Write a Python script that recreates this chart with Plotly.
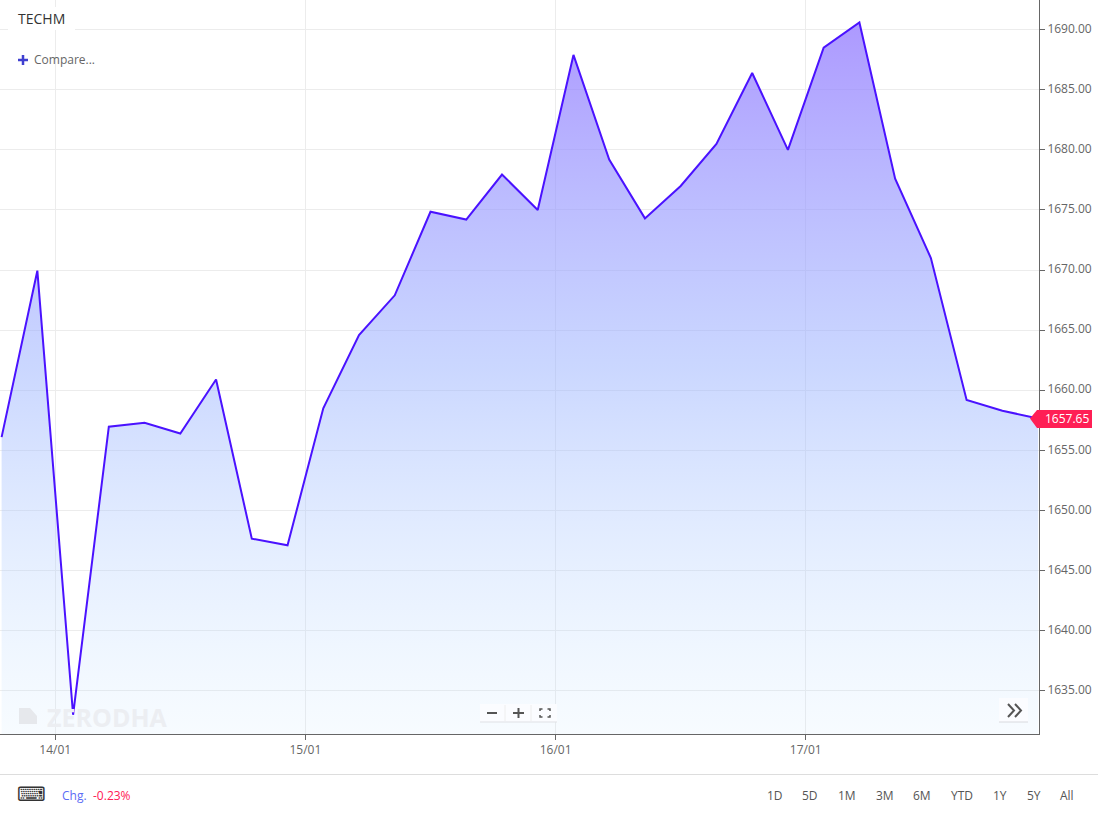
import plotly.graph_objects as go

PRICES = [1656.1, 1669.95, 1633.0, 1656.97, 1657.3, 1656.4, 1660.9, 1647.65, 1647.1, 1658.5,
          1664.6, 1667.9, 1674.85, 1674.2, 1677.95, 1675.0, 1687.9, 1679.2, 1674.3, 1677.0,
          1680.5, 1686.4, 1680.0, 1688.5, 1690.6, 1677.6, 1671.0, 1659.2, 1658.3, 1657.65]
BARS = list(range(len(PRICES)))
DATE_TICKS = [1.5, 8.5, 15.5, 22.5]
DATE_LABELS = ["14/01", "15/01", "16/01", "17/01"]
PRICE_TICKS = list(range(1635, 1695, 5))
RANGES = ["1D", "5D", "1M", "3M", "6M", "YTD", "1Y", "5Y", "All"]
RANGE_X = [775, 810, 847, 884.5, 922, 962, 1000, 1033.5, 1067]
LAST = "1657.65"

W, H = 1098, 816
PL, PT = 1039, 734
FONT = "Open Sans"


def px(x):
    return x / PL


def py(y):
    return 1 - y / PT


fig = go.Figure()
fig.add_trace(go.Scatter(
    x=BARS, y=PRICES, mode="lines", fill="tozeroy",
    line=dict(color="#4a12ff", width=2),
    fillgradient=dict(
        type="vertical", start=1692.4, stop=1631.3,
        colorscale=[[0, "rgba(147,118,255,0.78)"], [0.5, "rgba(150,175,255,0.5)"], [1, "rgba(190,225,255,0.12)"]],
    ),
    hoverinfo="skip", showlegend=False,
))


def text(x, y, s, size=12, color="#666666", anchor="center", **kw):
    return dict(text=s, x=px(x), y=py(y), xref="paper", yref="paper", showarrow=False,
                xanchor=anchor, yanchor="middle", font=dict(family=kw.pop("family", FONT), size=size, color=color), **kw)


def rect(x0, y0, x1, y1, fill="white", line=None, layer="above"):
    return dict(type="rect", xref="paper", yref="paper", x0=px(x0), x1=px(x1), y0=py(y0), y1=py(y1),
                fillcolor=fill, line=dict(color=line or "rgba(0,0,0,0)", width=1 if line else 0), layer=layer)


def seg(x0, y0, x1, y1, color, width=1):
    return dict(type="line", xref="paper", yref="paper", x0=px(x0), x1=px(x1), y0=py(y0), y1=py(y1),
                line=dict(color=color, width=width), layer="above")


def path(points, fill="rgba(0,0,0,0)", color="rgba(0,0,0,0)", width=0):
    d = "M" + " L".join(f"{px(a):.5f},{py(b):.5f}" for a, b in points)
    if fill != "rgba(0,0,0,0)":
        d += " Z"
    return dict(type="path", xref="paper", yref="paper", path=d, fillcolor=fill,
                line=dict(color=color, width=width), layer="above")


shapes = [
    rect(8, 7, 75, 30),
    seg(18, 60, 28, 60, "#3f3fd0", 2.5), seg(23, 55, 23, 65, "#3f3fd0", 2.5),
    # watermark logo
    path([(19, 708), (30, 708), (37, 716), (37, 724), (19, 724)], fill="#e6e8ec"),
    # zoom buttons
    rect(480, 704, 557, 722, fill="#fbfcff", line=None),
    seg(480, 722, 557, 722, "#dfe1e5", 1),
    seg(505, 705, 505, 721, "#eeeeee", 1), seg(531, 705, 531, 721, "#eeeeee", 1),
    seg(487, 713, 497, 713, "#555555", 2),
    seg(513, 713, 524, 713, "#555555", 2), seg(518.5, 708, 518.5, 718, "#555555", 2),
    path([(540, 711), (540, 709), (542.5, 709)], color="#555555", width=1.5),
    path([(547.5, 709), (550, 709), (550, 711)], color="#555555", width=1.5),
    path([(540, 715), (540, 717), (542.5, 717)], color="#555555", width=1.5),
    path([(547.5, 717), (550, 717), (550, 715)], color="#555555", width=1.5),
    # expand button
    rect(999, 698, 1028, 722, fill="#fbfcff"),
    seg(999, 722, 1028, 722, "#d8dade", 1),
    path([(1008, 704), (1014, 710.5), (1008, 717)], color="#555555", width=2),
    path([(1015, 704), (1021, 710.5), (1015, 717)], color="#555555", width=2),
    # footer rule
    seg(0, 774.5, W, 774.5, "#dddddd", 1),
    # last price tag
    path([(1030, 418.5), (1037, 410), (1092, 410), (1092, 428), (1037, 428)], fill="#ff1f55"),
]

ann = [
    text(16, 18, "TECHM", size=14, color="#333333", anchor="left"),
    text(32, 60, "Compare...", size=12, color="#666666", anchor="left"),
    text(45, 717, "<b>ZERODHA</b>", size=25, color="#eceef2", anchor="left"),
    text(1066.5, 418.5, LAST, size=12, color="#ffffff"),
    text(31, 794, "⌨", size=20, color="#333333", family="DejaVu Sans"),
    text(60, 795, "Chg.", size=12, color="#5a6cf5", anchor="left"),
    text(91, 795, "-0.23%", size=12, color="#ff2055", anchor="left"),
]
ann += [text(x, 795, s, size=12, color="#555555") for x, s in zip(RANGE_X, RANGES)]

fig.update_layout(
    width=W, height=H, margin=dict(l=0, r=W - PL, t=0, b=H - PT),
    paper_bgcolor="white", plot_bgcolor="white",
    font=dict(family=FONT, size=12, color="#666666"),
    xaxis=dict(range=[-0.045, 29.025], tickmode="array", tickvals=DATE_TICKS, ticktext=DATE_LABELS,
               showgrid=True, gridcolor="#ececec", gridwidth=1, zeroline=False,
               showline=True, linecolor="#666666", linewidth=1,
               ticks="outside", ticklen=5, tickcolor="#666666", tickfont=dict(size=12, color="#666666")),
    yaxis=dict(side="right", range=[1631.40, 1692.47], tickmode="array", tickvals=PRICE_TICKS,
               tickformat=".2f", showgrid=True, gridcolor="#ececec", gridwidth=1, zeroline=False,
               showline=True, linecolor="#666666", linewidth=1, ticklabelshift=-1,
               ticks="outside", ticklen=5, tickcolor="#666666", tickfont=dict(size=12, color="#666666")),
    shapes=shapes, annotations=ann,
)
fig.write_html("out.html", config=dict(displayModeBar=False),
               post_script="document.body.style.margin='0';document.body.style.overflow='hidden';")
